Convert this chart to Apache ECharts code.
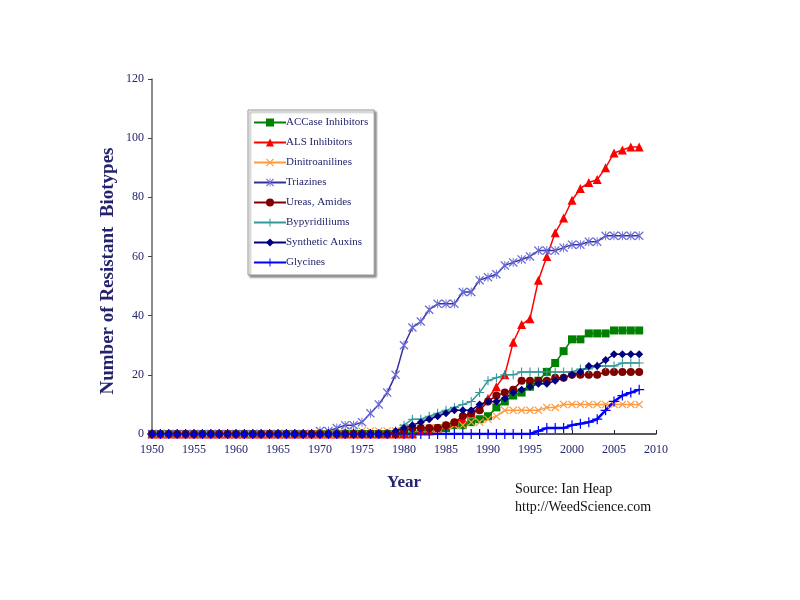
<!DOCTYPE html>
<html>
<head>
<meta charset="utf-8">
<script src="https://cdn.jsdelivr.net/npm/echarts@6/dist/echarts.min.js"></script>
<style>
  html, body { margin: 0; padding: 0; background: #fff; }
  #chart { width: 800px; height: 600px; }
</style>
</head>
<body>
<div id="chart"></div>
<script>
// years 1950 .. 2008
const years = []
for (let y = 1950; y <= 2008; y++) years.push(y)

// values from the first year shown in each name; earlier years are 0
const accaseFrom1982 = [1, 1, 2, 2, 3, 3, 4, 5, 6, 9, 11, 13, 14, 16, 18, 21, 24, 28, 32, 32, 34, 34, 34, 35, 35, 35, 35, 35]
const alsFrom1982 = [1, 1, 2, 3, 4, 5, 7, 9, 12, 16, 20, 31, 37, 39, 52, 60, 68, 73, 79, 83, 85, 86, 90, 95, 96, 97, 97]
const dinitroFrom1973 = [1, 1, 1, 1, 1, 1, 1, 2, 2, 2, 2, 2, 3, 3, 3, 4, 4, 5, 6, 8, 8, 8, 8, 8, 9, 9, 10, 10, 10, 10, 10, 10, 10, 10, 10, 10]
const triazinesFrom1970 = [1, 1, 2, 3, 3, 4, 7, 10, 14, 20, 30, 36, 38, 42, 44, 44, 44, 48, 48, 52, 53, 54, 57, 58, 59, 60, 62, 62, 62, 63, 64, 64, 65, 65, 67, 67, 67, 67, 67]
const ureasFrom1980 = [1, 2, 2, 2, 2, 3, 4, 6, 7, 8, 11, 13, 14, 15, 18, 18, 18, 18, 19, 19, 20, 20, 20, 20, 21, 21, 21, 21, 21]
const bipyFrom1979 = [1, 3, 5, 5, 6, 7, 8, 9, 10, 11, 14, 18, 19, 20, 20, 21, 21, 21, 21, 21, 21, 21, 22, 22, 23, 23, 23, 24, 24, 24]
const auxinsFrom1979 = [1, 2, 3, 4, 5, 6, 7, 8, 8, 8, 10, 11, 11, 12, 14, 15, 16, 17, 17, 18, 19, 20, 21, 23, 23, 25, 27, 27, 27, 27]
const glycinesFrom1996 = [1, 2, 2, 2, 3, 3.5, 4, 5, 8, 11, 13, 14, 15]

const seriesNames = ['ACCase Inhibitors', 'ALS Inhibitors', 'Dinitroanilines', 'Triazines', 'Ureas, Amides', 'Bypyridiliums', 'Synthetic Auxins', 'Glycines']
const seriesColors = ['#008000', '#ff0000', '#ff9a40', '#333399', '#800000', '#339999', '#000080', '#0000ff']

function fill (startYear, vals) {
  return years.map((y) => (y < startYear ? 0 : vals[y - startYear]))
}
const seriesValues = [
  fill(1982, accaseFrom1982),
  fill(1982, alsFrom1982),
  fill(1973, dinitroFrom1973),
  fill(1970, triazinesFrom1970),
  fill(1980, ureasFrom1980),
  fill(1979, bipyFrom1979),
  fill(1979, auxinsFrom1979),
  fill(1996, glycinesFrom1996)
]

const xSym = 'path://M1,0L5,4L9,0L10,1L6,5L10,9L9,10L5,6L1,10L0,9L4,5L0,1Z'
const plusSym = 'path://M4.4,0H5.6V4.4H10V5.6H5.6V10H4.4V5.6H0V4.4H4.4Z'
const starSym = 'path://M1,0L5,4L9,0L10,1L6,5L10,9L9,10L5,6L1,10L0,9L4,5L0,1ZM4.5,0H5.5V10H4.5Z'
const symbols = ['rect', 'triangle', xSym, starSym, 'circle', plusSym, 'diamond', plusSym]
const symbolSizes = [8, 9, 8, 9, 8, 9, 8, 10]
const lineWidths = [1.5, 1.5, 1.5, 1.5, 1.5, 1.5, 1.5, 2.5]

const chartDom = document.getElementById('chart')
const myChart = echarts.init(chartDom)
const serif = 'Liberation Serif'
const navy = '#24246e'

const option = {
  backgroundColor: '#fff',
  animation: false,
  grid: { left: 152, right: 144, top: 79, bottom: 166 },
  legend: {
    orient: 'vertical',
    left: 248,
    top: 110,
    padding: [7, 6, 7, 5],
    itemGap: 9,
    itemWidth: 32,
    itemHeight: 10,
    backgroundColor: '#fff',
    borderColor: '#999',
    borderWidth: 1,
    shadowColor: 'rgba(0,0,0,0.45)',
    shadowBlur: 2,
    shadowOffsetX: 2,
    shadowOffsetY: 2,
    textStyle: { fontFamily: serif, fontSize: 11, color: navy, padding: [0, 0, 0, -5] },
    data: seriesNames
  },
  xAxis: {
    type: 'value',
    min: 1950,
    max: 2010,
    interval: 5,
    name: 'Year',
    nameLocation: 'middle',
    nameGap: 40,
    nameTextStyle: { fontFamily: serif, fontSize: 17, fontWeight: 'bold', color: navy },
    axisLine: { lineStyle: { color: '#222', width: 1.5 } },
    axisTick: { inside: true, length: 4, lineStyle: { color: '#222' } },
    axisLabel: { fontFamily: serif, fontSize: 12, color: navy, margin: 10, formatter: (v) => String(v) },
    splitLine: { show: false }
  },
  yAxis: {
    type: 'value',
    min: 0,
    max: 120,
    interval: 20,
    axisLine: { show: true, lineStyle: { color: '#666', width: 1.5 } },
    axisTick: { show: true, length: 4, lineStyle: { color: '#444' } },
    axisLabel: { fontFamily: serif, fontSize: 12, color: navy, margin: 8 },
    splitLine: { show: false }
  },
  series: seriesNames.map((name, i) => ({
    name: name,
    type: 'line',
    data: years.map((y, k) => [y, seriesValues[i][k]]),
    symbol: symbols[i],
    symbolSize: symbolSizes[i],
    showAllSymbol: true,
    color: seriesColors[i],
    lineStyle: { width: lineWidths[i], color: seriesColors[i] },
    itemStyle: { color: i === 3 ? '#6a6ad8' : seriesColors[i], borderWidth: 0 },
    emphasis: { disabled: true }
  })),
  graphic: [
    {
      type: 'text',
      x: 108,
      y: 271,
      rotation: Math.PI / 2,
      style: {
        text: 'Number of Resistant  Biotypes',
        fontFamily: serif,
        fontSize: 19,
        fontWeight: 'bold',
        fill: navy,
        align: 'center',
        verticalAlign: 'middle'
      }
    },
    {
      type: 'text',
      left: 515,
      top: 480,
      style: {
        text: 'Source: Ian Heap\nhttp://WeedScience.com',
        fontFamily: serif,
        fontSize: 14,
        lineHeight: 18,
        fill: '#111'
      }
    }
  ]
}
myChart.setOption(option)
</script>
</body>
</html>
